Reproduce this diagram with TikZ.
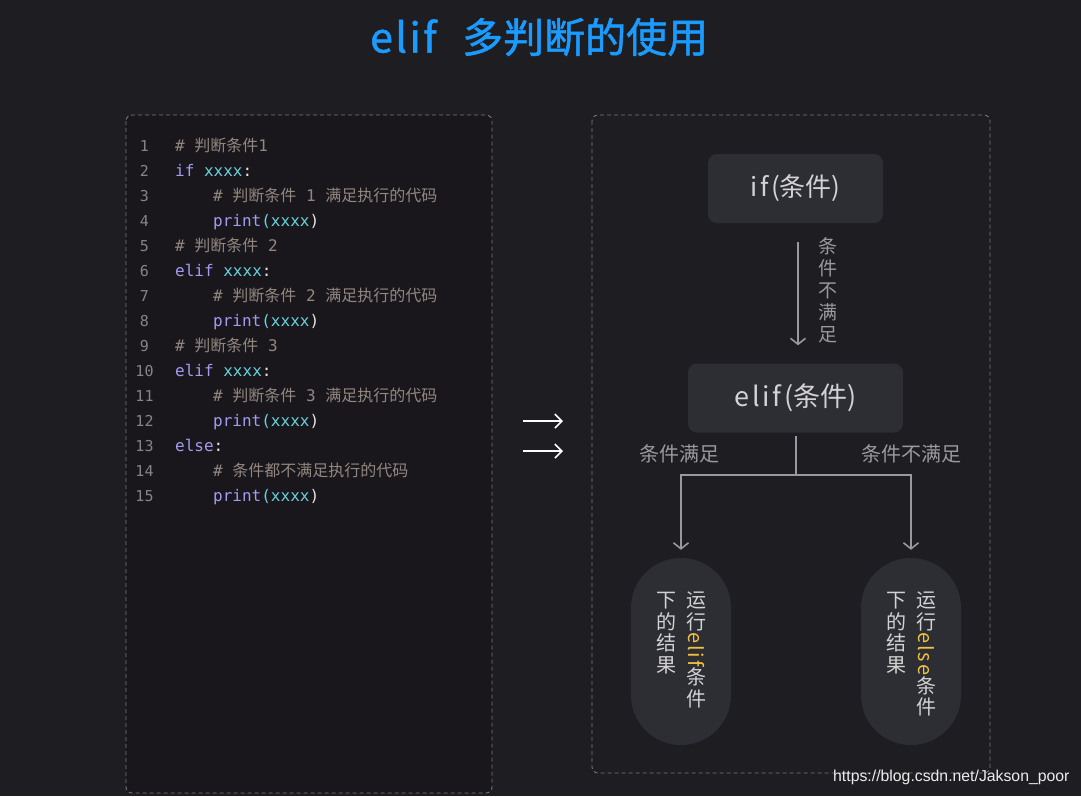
\documentclass[tikz,border=0pt]{standalone}
\usepackage{fontspec}
\usetikzlibrary{arrows.meta}
\setmainfont{Liberation Sans}
\newfontfamily\cjk{Noto Sans CJK SC}
\newfontfamily\cjktitle[FakeBold=1.2]{Noto Sans CJK SC}
\newfontfamily\codefont{DejaVu Sans Mono}
\definecolor{bgc}{HTML}{1E1E22}
\definecolor{panelc}{HTML}{19171C}
\definecolor{boxc}{HTML}{2D2E33}
\definecolor{dashc}{HTML}{77777B}
\definecolor{titlec}{HTML}{1A9BFF}
\definecolor{numc}{HTML}{858588}
\definecolor{cmtc}{HTML}{928780}
\definecolor{kwc}{HTML}{A29CF2}
\definecolor{varc}{HTML}{66D3DE}
\definecolor{punc}{HTML}{E6E6E6}
\definecolor{txtc}{HTML}{D2D2D4}
\definecolor{lblc}{HTML}{9A9A9C}
\definecolor{yelc}{HTML}{F0C040}
\newcommand\kwd[1]{\textcolor{kwc}{#1}}
\newcommand\vr[1]{\textcolor{varc}{#1}}
\newcommand\pn[1]{\textcolor{punc}{#1}}
\newcommand\cmt[1]{\textcolor{cmtc}{#1}}
\newcommand\prt{\kwd{print}\vr{(xxxx}\pn{)}}
\newcommand\lsp[1]{{\addfontfeature{LetterSpace=10}#1}}
\tikzset{
  panel/.style={draw=dashc, dash pattern=on 4pt off 3pt, line width=0.9pt, rounded corners=6pt},
  codeline/.style={anchor=base west, inner sep=0pt, font=\codefont\fontsize{16}{16}\selectfont},
  lnum/.style={anchor=base, inner sep=0pt, text=numc, font=\codefont\fontsize{15}{15}\selectfont},
  condbox/.style={fill=boxc, rounded corners=9pt, text=txtc, inner sep=0pt},
  pillbox/.style={fill=boxc, rounded corners=49.9pt, minimum width=100pt, minimum height=187pt, inner sep=0pt},
  vtext/.style={anchor=north, align=center, inner sep=0pt, text=txtc, font=\cjk\fontsize{20}{21.5}\selectfont},
  flow/.style={draw=lblc, line width=1.8pt},
  flowarrow/.style={flow, -{Straight Barb[length=6pt, width=15pt, line width=1.6pt]}},
  whitearrow/.style={draw=white, line width=1.8pt, -{Straight Barb[length=7pt, width=14pt, line width=1.6pt]}},
  lbl/.style={inner sep=0pt, text=lblc, font=\cjk\fontsize{20}{20}\selectfont}
}
\begin{document}
\begin{tikzpicture}[x=1pt, y=-1pt]
\fill[bgc] (0,0) rectangle (1081,796);
\useasboundingbox (0,0) rectangle (1081,796);
% title
\node[anchor=west, inner sep=0pt, text=titlec, font=\cjktitle\fontsize{41}{41}\selectfont] (title) at (370,37) {\makebox[92pt][l]{\addfontfeature{LetterSpace=6}elif}多判断的使用};
% panels
\draw[panel, fill=panelc] (126,115) rectangle (492,793);
\draw[panel] (592,115) rectangle (990,773);
% line numbers
\foreach \i in {1,...,15} {
  \node[lnum] (n\i) at (144.5,{151+25*(\i-1)}) {\i};
}
% code
\node[codeline] (c1) at (175,151) {\cmt{\# {\cjk 判断条件}1}};
\node[codeline] (c2) at (175,176) {\kwd{if} \vr{xxxx}\pn{:}};
\node[codeline] (c3) at (213,201) {\cmt{\# {\cjk 判断条件} 1 {\cjk 满足执行的代码}}};
\node[codeline] (c4) at (213,226) {\prt};
\node[codeline] (c5) at (175,251) {\cmt{\# {\cjk 判断条件} 2}};
\node[codeline] (c6) at (175,276) {\kwd{elif} \vr{xxxx}\pn{:}};
\node[codeline] (c7) at (213,301) {\cmt{\# {\cjk 判断条件} 2 {\cjk 满足执行的代码}}};
\node[codeline] (c8) at (213,326) {\prt};
\node[codeline] (c9) at (175,351) {\cmt{\# {\cjk 判断条件} 3}};
\node[codeline] (c10) at (175,376) {\kwd{elif} \vr{xxxx}\pn{:}};
\node[codeline] (c11) at (213,401) {\cmt{\# {\cjk 判断条件} 3 {\cjk 满足执行的代码}}};
\node[codeline] (c12) at (213,426) {\prt};
\node[codeline] (c13) at (175,451) {\kwd{else}\pn{:}};
\node[codeline] (c14) at (213,476) {\cmt{\# {\cjk 条件都不满足执行的代码}}};
\node[codeline] (c15) at (213,501) {\prt};
% middle arrows
\coordinate (a1s) at (523,421); \coordinate (a1e) at (563,421);
\coordinate (a2s) at (523,451); \coordinate (a2e) at (563,451);
\draw[whitearrow] (a1s) -- (a1e);
\draw[whitearrow] (a2s) -- (a2e);
% flow chart
\node[condbox, minimum width=175pt, minimum height=69pt, font=\cjk\fontsize{26}{26}\selectfont] (ifb) at (795.5,188.5) {\lsp{if(}条件\lsp{)}};
\node[condbox, minimum width=215pt, minimum height=69pt, font=\cjk\fontsize{27}{27}\selectfont] (elifb) at (795.5,398) {\lsp{elif(}条件\lsp{)}};
\draw[flowarrow] ([yshift=-19pt]ifb.south -| 798,0) -- ([yshift=18pt]elifb.north -| 798,0);
\node[vtext, text=lblc, font=\cjk\fontsize{19}{22}\selectfont] (nolbl) at (828,237) {条\\件\\不\\满\\足};
\node[pillbox] (p1) at (681,651.5) {};
\node[pillbox] (p2) at (911,651.5) {};
\coordinate (j) at (796,475);
\draw[flow] ([yshift=-3pt]elifb.south -| j) -- (j);
\draw[flowarrow, shorten >=8pt] (j) -| (p1.north);
\draw[flowarrow, shorten >=8pt] (j) -| (p2.north);
\node[lbl] (yes) at (679,454) {条件满足};
\node[lbl] (no) at (911,454) {条件不满足};
\node[vtext] (p1r) at (696,592) {运\\行\\\rotatebox[origin=c]{-90}{\textcolor{yelc}{\lsp{elif}}}\\条\\件};
\node[vtext] (p1l) at (666,592) {下\\的\\结\\果};
\node[vtext] (p2r) at (926,592) {运\\行\\\rotatebox[origin=c]{-90}{\textcolor{yelc}{\lsp{else}}}\\条\\件};
\node[vtext] (p2l) at (896,592) {下\\的\\结\\果};
% footer
\node[anchor=west, inner sep=0pt, text=white!85!gray, font=\fontsize{15.8}{16}\selectfont] (url) at (833,777) {https://blog.csdn.net/Jakson\_poor};
\end{tikzpicture}
\end{document}
